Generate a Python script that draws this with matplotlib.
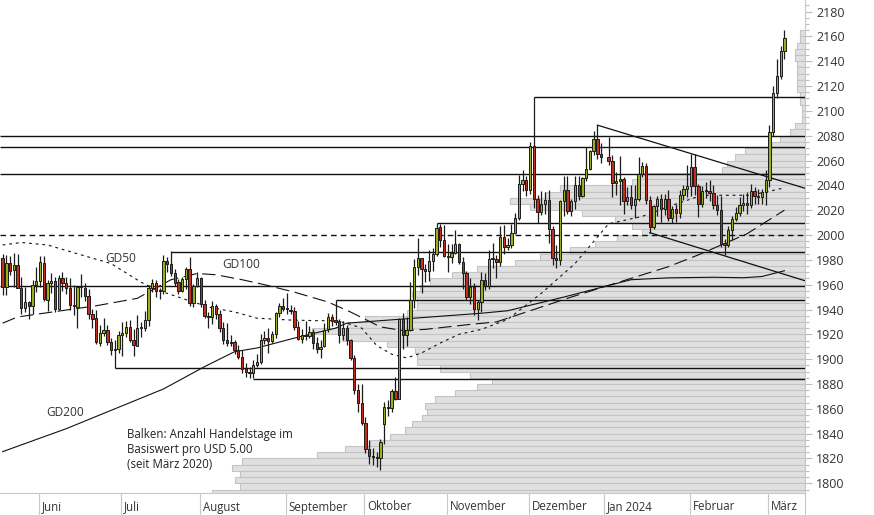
import numpy as np
import pandas as pd
import matplotlib
matplotlib.use("Agg")
import matplotlib.pyplot as plt
import matplotlib.transforms as mtransforms
from matplotlib.lines import Line2D

plt.rcParams['font.family'] = ['Open Sans', 'DejaVu Sans']

# ---------------- data ----------------
# trading-day slots (no slot for 25 Dec; 1 Jan slot stays empty)
days = pd.bdate_range("2023-05-18", "2024-03-07")
days = days[days != pd.Timestamp("2023-12-25")]

opens = [
    1981.6, 1958.0, 1977.8, 1971.6, 1975.8, 1957.6, 1941.3, 1946.0, 1943.0, 1959.6,
    1962.7, 1977.8, 1947.9, 1961.6, 1963.3, 1940.2, 1965.0, 1961.0, 1957.6, 1943.7,
    1942.3, 1957.9, 1957.6, 1950.6, 1936.2, 1932.8, 1913.3, 1920.8, 1923.3, 1913.9,
    1907.6, 1908.3,
    1919.5, 1921.3, 1925.6, 1915.6, 1911.0, 1925.0, 1925.2, 1931.7, 1957.3, 1961.3,
    1955.0, 1955.1, 1978.9, 1976.8, 1969.6, 1961.8, 1954.7, 1964.8, 1972.3, 1945.4,
    1959.1,
    1965.1, 1944.3, 1934.7, 1933.9, 1942.8, 1936.6, 1925.0, 1915.3, 1912.9, 1913.5,
    1907.3, 1902.1, 1891.8, 1889.2, 1889.0, 1895.1, 1898.1, 1915.4, 1917.2, 1914.6,
    1920.3, 1937.2, 1942.5,
    1940.2, 1939.8, 1938.8, 1926.2, 1916.6, 1919.5, 1918.5, 1922.2, 1912.9, 1908.4,
    1910.3, 1924.0, 1933.7, 1931.0, 1930.4, 1919.6, 1925.3, 1915.7, 1900.8, 1875.1,
    1864.7,
    1848.4, 1827.6, 1822.4, 1821.0, 1820.1, 1848.0, 1861.4, 1860.7, 1874.3, 1868.2,
    1932.7, 1919.7, 1923.3, 1947.6, 1974.0, 1981.1, 1972.5, 1970.8, 1979.1, 1984.8,
    2006.2, 1996.3,
    1983.0, 1982.6, 1985.6, 1992.4, 1978.1, 1969.6, 1950.1, 1958.2, 1940.1, 1946.1,
    1963.7, 1958.9, 1980.7, 1980.7, 1977.9, 1998.3, 1990.0, 1992.1, 2001.9, 2014.1,
    2041.3, 2044.3,
    2036.4, 2072.0, 2029.3, 2018.9, 2025.3, 2028.0, 2004.6, 1981.6, 1980.0, 2027.1,
    2036.5, 2019.4, 2027.2, 2040.4, 2031.1, 2045.9, 2053.3, 2067.4, 2077.5, 2065.2,
    np.nan, 2062.9, 2059.5, 2042.1, 2043.6, 2045.3, 2027.6, 2030.4, 2024.4, 2028.8,
    2049.2, 2055.2, 2028.3, 2006.3, 2023.1, 2029.1, 2021.2, 2029.4, 2013.8, 2020.9,
    2018.1, 2032.6, 2036.7,
    2039.2, 2054.7, 2039.2, 2024.6, 2035.6, 2035.3, 2034.0, 2024.1, 2020.1, 1992.8,
    1992.3, 2004.4, 2013.3, 2017.9, 2024.5, 2025.8, 2024.3, 2035.5, 2031.3, 2030.3,
    2034.4,
    2044.1, 2082.9, 2114.6, 2128.3, 2148.3,
]
highs = [
    1984.5, 1984.3, 1983.4, 1985.3, 1985.0, 1966.0, 1957.8, 1947.0, 1963.8, 1974.2,
    1983.5, 1983.3, 1963.6, 1969.5, 1966.1, 1967.9, 1970.6, 1965.8, 1965.0, 1959.4,
    1959.1, 1968.5, 1961.4, 1956.8, 1940.6, 1939.9, 1927.6, 1933.1, 1927.6, 1916.8,
    1915.3, 1922.4,
    1929.6, 1930.6, 1931.6, 1924.6, 1935.4, 1929.7, 1938.4, 1959.8, 1964.2, 1963.5,
    1957.5, 1984.2, 1982.2, 1987.5, 1972.5, 1964.8, 1966.5, 1974.1, 1982.3, 1960.2,
    1969.9,
    1966.0, 1947.3, 1937.8, 1946.9, 1944.2, 1939.4, 1930.1, 1929.5, 1919.1, 1915.5,
    1911.6, 1907.5, 1896.8, 1894.0, 1899.4, 1903.9, 1920.1, 1922.5, 1925.3, 1922.5,
    1938.3, 1945.6, 1949.0,
    1952.9, 1943.8, 1942.0, 1931.0, 1924.5, 1930.5, 1926.8, 1924.3, 1917.6, 1915.2,
    1929.2, 1937.2, 1936.4, 1947.6, 1932.0, 1930.6, 1927.6, 1916.6, 1903.6, 1879.6,
    1880.1,
    1853.1, 1835.0, 1828.5, 1825.6, 1836.0, 1865.4, 1867.0, 1876.3, 1885.3, 1933.2,
    1937.4, 1933.9, 1962.4, 1980.9, 1997.2, 1981.5, 1976.6, 1988.3, 1989.8, 2009.4,
    2008.8, 2007.8,
    1993.1, 1992.9, 2003.8, 1993.8, 1982.6, 1971.1, 1965.3, 1961.6, 1947.3, 1970.4,
    1969.6, 1988.2, 1993.8, 1984.1, 2007.3, 2008.0, 1997.2, 2008.8, 2017.6, 2048.3,
    2052.1, 2047.8,
    2075.2, 2111.0, 2032.0, 2035.6, 2034.9, 2036.0, 2007.2, 1992.3, 2028.2, 2047.7,
    2047.5, 2028.7, 2047.6, 2047.4, 2047.1, 2070.9, 2068.7, 2083.7, 2088.5, 2073.8,
    np.nan, 2078.9, 2064.5, 2050.9, 2064.0, 2046.4, 2038.9, 2040.6, 2040.0, 2062.8,
    2058.5, 2057.8, 2031.7, 2024.2, 2031.1, 2033.2, 2033.0, 2036.6, 2023.2, 2025.1,
    2036.0, 2040.0, 2056.4,
    2065.5, 2065.1, 2041.0, 2039.7, 2042.4, 2044.3, 2040.2, 2032.6, 2031.6, 1996.6,
    2006.9, 2015.7, 2022.8, 2030.9, 2032.9, 2034.5, 2041.1, 2038.6, 2037.1, 2037.2,
    2052.3,
    2088.6, 2119.8, 2141.6, 2152.0, 2164.9,
]
lows = [
    1952.0, 1951.9, 1967.6, 1957.8, 1957.5, 1936.6, 1937.6, 1932.0, 1936.5, 1954.3,
    1957.9, 1946.7, 1938.6, 1953.5, 1938.3, 1939.6, 1955.0, 1952.3, 1940.0, 1935.8,
    1924.8, 1950.4, 1947.1, 1932.4, 1925.2, 1912.0, 1910.5, 1919.0, 1911.7, 1903.3,
    1893.0, 1905.3,
    1902.9, 1917.9, 1914.2, 1902.8, 1910.8, 1917.6, 1922.8, 1927.1, 1953.8, 1950.2,
    1948.5, 1952.4, 1969.9, 1966.6, 1959.3, 1952.1, 1954.1, 1956.6, 1942.6, 1941.8,
    1957.9,
    1941.7, 1932.9, 1925.5, 1928.6, 1932.0, 1922.1, 1912.0, 1911.0, 1910.6, 1903.8,
    1899.8, 1888.9, 1885.3, 1884.9, 1884.5, 1893.9, 1896.1, 1911.9, 1904.9, 1912.8,
    1917.4, 1934.3, 1938.6,
    1936.0, 1936.3, 1923.5, 1915.6, 1913.1, 1915.2, 1917.0, 1908.2, 1904.8, 1901.1,
    1910.0, 1921.8, 1927.0, 1927.9, 1913.0, 1915.1, 1911.6, 1899.3, 1871.7, 1857.1,
    1846.6,
    1824.4, 1815.6, 1815.0, 1813.1, 1810.4, 1832.0, 1853.9, 1857.8, 1867.0, 1867.6,
    1908.5, 1910.7, 1922.9, 1941.0, 1968.1, 1953.1, 1961.8, 1963.3, 1971.4, 1983.0,
    1990.0, 1982.6,
    1970.5, 1977.2, 1984.4, 1976.7, 1956.6, 1947.5, 1944.5, 1935.9, 1931.6, 1938.1,
    1955.6, 1956.2, 1973.5, 1965.4, 1975.0, 1985.1, 1988.2, 1989.6, 2001.1, 2011.7,
    2035.6, 2031.6,
    2033.2, 2022.0, 2009.4, 2016.3, 2017.3, 1993.4, 1975.9, 1973.2, 1976.2, 2015.3,
    2016.6, 2015.4, 2020.8, 2027.9, 2030.3, 2043.7, 2052.2, 2064.3, 2061.4, 2058.0,
    np.nan, 2056.7, 2030.5, 2032.0, 2024.3, 2016.6, 2024.2, 2021.0, 2013.4, 2027.5,
    2047.0, 2024.6, 2001.9, 2004.9, 2015.6, 2010.7, 2015.9, 2011.5, 2009.7, 2010.5,
    2013.6, 2028.5, 2030.3,
    2031.6, 2032.1, 2014.9, 2022.5, 2030.0, 2027.4, 2021.0, 2016.4, 1990.6, 1984.3,
    1990.3, 1995.7, 2011.6, 2015.7, 2019.3, 2016.9, 2021.4, 2024.9, 2025.3, 2024.6,
    2024.1,
    2038.8, 2079.6, 2110.3, 2125.6, 2141.5,
]
closes = [
    1958.0, 1977.6, 1971.4, 1975.7, 1957.7, 1941.3, 1946.0, 1943.0, 1959.9, 1962.7,
    1977.9, 1948.1, 1961.7, 1963.3, 1940.4, 1965.0, 1961.4, 1957.6, 1943.5, 1942.8,
    1957.8, 1957.9, 1950.6, 1936.2, 1932.7, 1913.5, 1921.0, 1923.1, 1913.7, 1907.5,
    1908.3, 1919.4,
    1921.4, 1925.6, 1915.4, 1911.2, 1925.1, 1925.2, 1931.5, 1957.4, 1961.2, 1955.2,
    1955.2, 1978.8, 1976.8, 1969.5, 1961.7, 1954.7, 1964.9, 1972.4, 1945.4, 1959.1,
    1965.1,
    1944.2, 1934.5, 1933.9, 1942.9, 1936.7, 1925.0, 1915.3, 1912.8, 1913.6, 1907.3,
    1901.9, 1891.9, 1889.3, 1889.0, 1894.9, 1897.9, 1915.3, 1917.3, 1914.6, 1920.4,
    1937.1, 1942.5, 1940.2,
    1940.1, 1938.9, 1926.1, 1916.6, 1919.5, 1918.5, 1922.1, 1912.9, 1908.3, 1910.2,
    1923.8, 1933.7, 1931.0, 1930.3, 1919.6, 1925.2, 1915.6, 1900.8, 1874.9, 1864.5,
    1848.6,
    1827.6, 1822.3, 1821.0, 1820.0, 1832.9, 1861.3, 1860.8, 1874.2, 1868.2, 1932.6,
    1919.8, 1923.3, 1947.5, 1974.2, 1981.1, 1972.8, 1970.8, 1979.1, 1984.9, 2006.0,
    1996.3, 1983.0,
    1982.6, 1985.6, 1992.4, 1978.1, 1969.6, 1950.1, 1958.2, 1940.3, 1946.1, 1963.7,
    1958.9, 1980.7, 1980.7, 1977.9, 1998.3, 1990.0, 1992.1, 2001.9, 2014.1, 2041.3,
    2044.3, 2036.4,
    2071.9, 2029.3, 2018.9, 2025.3, 2028.0, 2004.6, 1981.6, 1980.0, 2027.1, 2036.5,
    2019.4, 2027.2, 2040.4, 2031.1, 2045.9, 2053.1, 2067.4, 2077.5, 2065.2, 2062.9,
    np.nan, 2059.5, 2042.1, 2043.6, 2045.3, 2027.6, 2030.4, 2024.4, 2028.8, 2049.2,
    2055.2, 2028.3, 2006.3, 2023.1, 2029.1, 2021.2, 2029.4, 2013.8, 2020.9, 2018.1,
    2032.6, 2036.7, 2039.2,
    2054.7, 2039.2, 2024.6, 2035.6, 2035.3, 2034.0, 2024.1, 2020.1, 1992.8, 1992.3,
    2004.4, 2013.3, 2017.9, 2024.5, 2025.8, 2024.3, 2035.5, 2031.3, 2030.3, 2034.4,
    2044.1,
    2082.9, 2114.6, 2128.3, 2148.3, 2159.0,
]

# moving averages (date, value)
gd50_dates = ["2023-05-18", "2023-05-25", "2023-06-05", "2023-06-16", "2023-06-28",
              "2023-07-10", "2023-07-14", "2023-07-24", "2023-08-03", "2023-08-14",
              "2023-08-22", "2023-09-04", "2023-09-13", "2023-09-20", "2023-09-25",
              "2023-09-29", "2023-10-05", "2023-10-11", "2023-10-17", "2023-10-23",
              "2023-10-30", "2023-11-06", "2023-11-14", "2023-11-23", "2023-12-06",
              "2023-12-19", "2024-01-02", "2024-01-15", "2024-01-26", "2024-02-06",
              "2024-02-23", "2024-03-04", "2024-03-07"]
gd50_vals = [1992, 1994, 1992, 1984, 1977, 1962, 1956, 1950, 1942, 1938,
             1933, 1931.5, 1931, 1931, 1929, 1925, 1911, 1904, 1901, 1905,
             1913, 1920, 1924, 1932, 1953, 1977, 2009, 2015, 2025, 2032,
             2032, 2036, 2038]

gd100_dates = ["2023-05-18", "2023-05-24", "2023-06-22", "2023-07-07", "2023-07-20",
               "2023-07-31", "2023-08-07", "2023-08-16", "2023-08-24", "2023-09-05",
               "2023-09-18", "2023-09-26", "2023-10-06", "2023-10-16", "2023-10-24",
               "2023-11-09", "2023-11-20", "2023-12-18", "2024-01-24", "2024-02-05",
               "2024-02-22", "2024-03-07"]
gd100_vals = [1929, 1934, 1943, 1949, 1964, 1969, 1968, 1964, 1960, 1954,
              1946, 1938, 1926, 1923, 1924, 1928, 1930, 1950, 1974.5, 1984,
              2001, 2020]

gd200_dates = ["2023-05-18", "2023-06-12", "2023-07-18", "2023-08-02", "2023-08-14",
               "2023-08-22", "2023-09-05", "2023-09-20", "2023-09-25", "2023-10-19",
               "2023-11-14", "2023-11-23", "2023-12-14", "2023-12-28", "2024-01-10",
               "2024-01-24", "2024-02-09", "2024-02-21", "2024-02-28", "2024-03-07"]
gd200_vals = [1825.5, 1844, 1876, 1894, 1906, 1909, 1917, 1925, 1929, 1933,
              1937, 1939, 1950, 1957, 1964, 1965.5, 1966, 1965.6, 1966.6, 1971.2]

# horizontal support / resistance lines (level, start date; None = from left edge)
hline_levels = [2110.9, 2079.5, 2070.7, 2048.9, 2009.4, 1986.5, 1958.7, 1947.6, 1892.5, 1884.0]
hline_starts = ["2023-12-04", None, None, None, "2023-10-27", "2023-07-20", None,
                "2023-09-20", "2023-06-29", "2023-08-21"]
dashed_level = 2000.0

# trend lines: start (date, value), value on last trading day
trend_starts = [("2023-12-28", 2088.5), ("2024-01-17", 2001.9)]
trend_ends = [("2024-03-07", 2042.7), ("2024-03-07", 1968.3)]

# volume profile: trading days per USD 5.00 bin (lower bin edge)
vp_bins = list(range(2160, 1785, -5))
vp_counts = [2, 2, 3, 4, 4, 3, 3, 3, 3, 3,
             2, 2, 1, 1, 1, 4, 6, 10, 13, 24,
             28, 31, 33, 66, 69, 98, 104, 118, 110, 89,
             76, 69, 65, 75, 84, 94, 106, 116, 131, 141,
             150, 154, 157, 155, 155, 159, 176, 183, 197, 185,
             167, 156, 155, 155, 146, 134, 125, 131, 140, 148,
             152, 151, 153, 157, 160, 166, 174, 184, 195, 225,
             229, 226, 228, 226, 237]

months = ["Juni", "Juli", "August", "September", "Oktober", "November",
          "Dezember", "Jan 2024", "Februar", "März"]
month_keys = ["2023-06", "2023-07", "2023-08", "2023-09", "2023-10", "2023-11",
              "2023-12", "2024-01", "2024-02", "2024-03"]

# ---------------- drawing ----------------
W, H = 874, 515
fig = plt.figure(figsize=(W / 100, H / 100), dpi=100)
ax_l, ax_r, ax_b = 0, 805, 493
ax = fig.add_axes([ax_l / W, (H - ax_b) / H, (ax_r - ax_l) / W, ax_b / H])
XMIN, XMAX = -0.7, 214.5
YMIN, YMAX = 1792.2, 2189.3

# volume profile on twin axis
ax2 = ax.twiny()
ax2.set_xlim(322, 0)
ax2.barh(np.array(vp_bins) + 2.5, vp_counts, height=5, left=0,
         color='#e0e0e0', edgecolor='#c4c4c4', linewidth=0.8, zorder=1)
ax2.set_axis_off()
ax2.set_zorder(1)
ax.set_zorder(2)
ax.patch.set_visible(False)

x = np.arange(len(days))
o = np.array(opens, float); h = np.array(highs, float)
l = np.array(lows, float); c = np.array(closes, float)
ok = ~np.isnan(o)

def pos(d):
    return days.get_indexer(pd.to_datetime(d))

# horizontal lines
for lev, st in zip(hline_levels, hline_starts):
    x0 = XMIN if st is None else pos([st])[0]
    ax.plot([x0, XMAX], [lev, lev], color='#111111', lw=1.0, zorder=3,
            solid_capstyle='butt')
ax.plot([XMIN, XMAX], [dashed_level] * 2, color='#111111', lw=1.0,
        linestyle=(0, (4, 3)), zorder=3)

# trend lines extended to the right edge
for (d0, v0), (d1, v1) in zip(trend_starts, trend_ends):
    i0, i1 = pos([d0])[0], pos([d1])[0]
    slope = (v1 - v0) / (i1 - i0)
    ax.plot([i0, XMAX], [v0, v0 + slope * (XMAX - i0)], color='#111111', lw=0.9, zorder=3)

# moving averages
ax.plot(pos(gd50_dates), gd50_vals, color='#111111', lw=0.8, linestyle=(0, (2.5, 3.5)), zorder=3)
ax.plot(pos(gd100_dates), gd100_vals, color='#111111', lw=0.8, linestyle=(0, (12, 5)), zorder=3)
ax.plot(pos(gd200_dates), gd200_vals, color='#111111', lw=0.8, zorder=3)

# candles
up = c >= o
ax.vlines(x[ok], l[ok], h[ok], color='#1b1b1b', lw=0.9, zorder=5)
body = np.maximum(np.abs(c - o), 0.9)
cols = np.where(up, '#9aaf1a', '#c0301f')
ax.bar(x[ok], body[ok], bottom=np.minimum(o, c)[ok], width=0.62, color=cols[ok],
       edgecolor='#1b1b1b', linewidth=0.7, zorder=6)

ax.set_xlim(XMIN, XMAX)
ax.set_ylim(YMIN, YMAX)

# y axis on the right
ax.yaxis.tick_right()
ax.set_yticks(np.arange(1800, 2181, 20))
ax.set_yticks(np.arange(1795, 2190, 5), minor=True)
ax.tick_params(axis='y', which='major', length=5, width=0.8, color='#bdbdbd',
               labelsize=9, labelcolor='#333333', pad=3)
ax.tick_params(axis='y', which='minor', length=3, width=0.8, color='#bdbdbd')

# x axis: month separators + labels
mpos = [np.where(days.strftime("%Y-%m") == k)[0][0] - 0.3 for k in month_keys]
ax.set_xticks(mpos)
ax.set_xticklabels([])
ax.tick_params(axis='x', which='major', length=16, width=0.8, color='#c8c8c8')
off = mtransforms.ScaledTranslation(3 / 100, 0, fig.dpi_scale_trans)
tr = mtransforms.blended_transform_factory(ax.transData, ax.transAxes) + off
for p, m in zip(mpos, months):
    ax.text(p, -14 / 493, m, transform=tr, ha='left', va='center', fontsize=8.3,
            color='#333333', clip_on=False)

for s in ['top', 'left']:
    ax.spines[s].set_visible(False)
for s in ['right', 'bottom']:
    ax.spines[s].set_color('#c8c8c8')
    ax.spines[s].set_linewidth(0.8)
fig.add_artist(Line2D([805 / W, 805 / W], [0, (H - ax_b) / H], color='#c8c8c8', lw=0.8))

# labels
ax.text(121 / 805, (493 - 258) / 493, "GD50", transform=ax.transAxes, ha='center',
        va='center', fontsize=8.6, color='#333333')
ax.text(241 / 805, (493 - 265) / 493, "GD100", transform=ax.transAxes, ha='center',
        va='center', fontsize=8.6, color='#333333')
ax.text(65 / 805, (493 - 412) / 493, "GD200", transform=ax.transAxes, ha='center',
        va='center', fontsize=8.6, color='#333333')
ax.text(127 / 805, (493 - 428) / 493,
        "Balken: Anzahl Handelstage im\nBasiswert pro USD 5.00\n(seit März 2020)",
        transform=ax.transAxes, ha='left', va='top', fontsize=8.3, color='#222222',
        linespacing=1.2)

fig.savefig("out.png", dpi=100)
